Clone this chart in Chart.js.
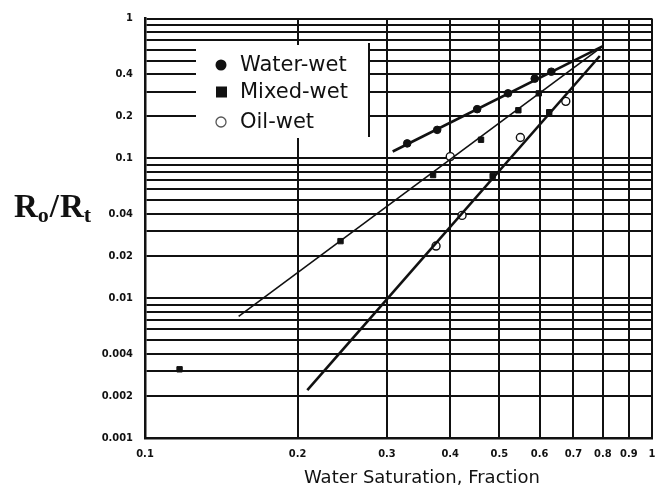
<!DOCTYPE html>
<html lang="en">
<head>
<meta charset="utf-8">
<title>Ro/Rt vs Water Saturation</title>
<script src="https://cdn.jsdelivr.net/npm/chart.js@4.4.1/dist/chart.umd.min.js"></script>
<style>
  html, body { margin: 0; padding: 0; background: #fff; }
  #grafica { display: block; }
</style>
</head>
<body>
<canvas id="grafica" width="668" height="494"></canvas>
<script>
// Puntos: Sw (fracción) y Ro/Rt
const waterWetSw = [0.329, 0.377, 0.452, 0.520, 0.587, 0.633];
const waterWetRatio = [0.128, 0.160, 0.225, 0.292, 0.372, 0.417];

const mixedWetSw = [0.117, 0.243, 0.370, 0.460, 0.485, 0.545, 0.598, 0.627];
const mixedWetRatio = [0.0031, 0.0256, 0.076, 0.136, 0.0747, 0.221, 0.292, 0.214];

const oilWetSw = [0.375, 0.400, 0.422, 0.550, 0.676];
const oilWetRatio = [0.0236, 0.103, 0.0391, 0.141, 0.256];

// Rectas de ajuste (extremos de cada recta)
const waterFitSw = [0.308, 0.80];
const waterFitRatio = [0.112, 0.635];
const mixedFitSw = [0.153, 0.80];
const mixedFitRatio = [0.0074, 0.635];
const oilFitSw = [0.209, 0.789];
const oilFitRatio = [0.0022, 0.54];

// Marcas de los ejes
const xTicks = [0.1, 0.2, 0.3, 0.4, 0.5, 0.6, 0.7, 0.8, 0.9, 1];
const xTickLabels = ['0.1', '0.2', '0.3', '0.4', '0.5', '0.6', '0.7', '0.8', '0.9', '1'];
const yTicks = [
    0.001, 0.002, 0.003, 0.004, 0.005, 0.006, 0.007, 0.008, 0.009,
    0.01, 0.02, 0.03, 0.04, 0.05, 0.06, 0.07, 0.08, 0.09,
    0.1, 0.2, 0.3, 0.4, 0.5, 0.6, 0.7, 0.8, 0.9, 1
];
const yLabeled = [0.001, 0.002, 0.004, 0.01, 0.02, 0.04, 0.1, 0.2, 0.4, 1];
const yTickLabels = ['0.001', '0.002', '0.004', '0.01', '0.02', '0.04', '0.1', '0.2', '0.4', '1'];

const legendItems = ['Water-wet', 'Mixed-wet', 'Oil-wet'];

function toPoints(xs, ys) {
    return xs.map((x, i) => ({ x: x, y: ys[i] }));
}

function findLabel(list, labels, value) {
    const i = list.findIndex(v => Math.abs(v - value) < v * 1e-6);
    return i >= 0 ? labels[i] : '';
}

document.addEventListener('DOMContentLoaded', function () {
    const canvas = document.getElementById('grafica');
    const ctx = canvas.getContext('2d');

    // Leyenda y títulos dibujados a mano
    const extras = {
        id: 'extras',
        beforeDatasetsDraw(chart) {
            const c = chart.ctx;
            c.save();
            // recuadro blanco de la leyenda
            c.fillStyle = '#ffffff';
            c.fillRect(196, 45, 173, 93);
            c.strokeStyle = '#111';
            c.lineWidth = 2;
            c.beginPath();
            c.moveTo(369, 43);
            c.lineTo(369, 137);
            c.stroke();

            c.font = '21px "DejaVu Sans"';
            c.textBaseline = 'middle';
            c.textAlign = 'left';
            c.fillStyle = '#111';
            const ys = [65, 92, 122];
            // circulo lleno
            c.beginPath();
            c.arc(221, ys[0], 5.5, 0, Math.PI * 2);
            c.fill();
            // cuadrado
            c.fillRect(216, ys[1] - 5.5, 11, 11);
            // circulo abierto
            c.strokeStyle = '#555';
            c.lineWidth = 1.3;
            c.beginPath();
            c.arc(221, ys[2], 5, 0, Math.PI * 2);
            c.stroke();
            legendItems.forEach((t, i) => c.fillText(t, 240, ys[i] + 1));
            c.restore();
        },
        afterDraw(chart) {
            const c = chart.ctx;
            c.save();
            c.fillStyle = '#111';
            c.textBaseline = 'alphabetic';
            // titulo eje x
            c.font = '18px "DejaVu Sans"';
            c.textAlign = 'center';
            c.fillText('Water Saturation, Fraction', 422, 483);
            // titulo eje y: Ro/Rt con subíndices
            c.textAlign = 'left';
            const big = 'bold 33px "Liberation Serif"';
            const small = 'bold 22px "Liberation Serif"';
            let x = 14;
            const base = 217;
            const parts = [
                { t: 'R', f: big, dy: 0, gap: 0 },
                { t: 'o', f: small, dy: 5, gap: 1 },
                { t: '/', f: big, dy: 0, gap: 1 },
                { t: 'R', f: big, dy: 0, gap: 0 },
                { t: 't', f: small, dy: 5, gap: 0 }
            ];
            parts.forEach(p => {
                c.font = p.f;
                c.fillText(p.t, x, base + p.dy);
                x += c.measureText(p.t).width + p.gap;
            });
            c.restore();
        }
    };

    const tickFont = { family: '"DejaVu Sans Condensed", "DejaVu Sans"', size: 11, weight: 'bold' };

    new Chart(ctx, {
        type: 'scatter',
        data: {
            datasets: [
                {
                    label: 'Water-wet fit',
                    data: toPoints(waterFitSw, waterFitRatio),
                    showLine: true,
                    borderColor: '#111',
                    borderWidth: 2.6,
                    pointRadius: 0
                },
                {
                    label: 'Mixed-wet fit',
                    data: toPoints(mixedFitSw, mixedFitRatio),
                    showLine: true,
                    borderColor: '#111',
                    borderWidth: 1.6,
                    pointRadius: 0
                },
                {
                    label: 'Oil-wet fit',
                    data: toPoints(oilFitSw, oilFitRatio),
                    showLine: true,
                    borderColor: '#111',
                    borderWidth: 2.6,
                    pointRadius: 0
                },
                {
                    label: 'Water-wet',
                    data: toPoints(waterWetSw, waterWetRatio),
                    pointStyle: 'circle',
                    pointRadius: 3.8,
                    backgroundColor: '#111',
                    borderColor: '#111',
                    borderWidth: 1
                },
                {
                    label: 'Mixed-wet',
                    data: toPoints(mixedWetSw, mixedWetRatio),
                    pointStyle: 'rect',
                    pointRadius: 3.8,
                    backgroundColor: '#111',
                    borderColor: '#111',
                    borderWidth: 1
                },
                {
                    label: 'Oil-wet',
                    data: toPoints(oilWetSw, oilWetRatio),
                    pointStyle: 'circle',
                    pointRadius: 4,
                    backgroundColor: '#fff',
                    borderColor: '#111',
                    borderWidth: 1.4
                }
            ]
        },
        options: {
            responsive: false,
            animation: false,
            layout: { padding: { top: 12, right: 16, left: 0, bottom: 0 } },
            plugins: {
                legend: { display: false },
                tooltip: { enabled: false }
            },
            scales: {
                x: {
                    type: 'logarithmic',
                    min: 0.1,
                    max: 1,
                    afterFit: scale => { scale.height = 56; },
                    afterBuildTicks: scale => { scale.ticks = xTicks.map(v => ({ value: v })); },
                    grid: { color: '#111', lineWidth: 2, drawTicks: false },
                    border: { color: '#111', width: 2.5 },
                    ticks: {
                        color: '#111',
                        font: tickFont,
                        padding: 10,
                        autoSkip: false,
                        maxRotation: 0,
                        callback: value => findLabel(xTicks, xTickLabels, value)
                    }
                },
                y: {
                    type: 'logarithmic',
                    min: 0.001,
                    max: 1,
                    afterFit: scale => { scale.width = 145; },
                    afterBuildTicks: scale => { scale.ticks = yTicks.map(v => ({ value: v })); },
                    grid: { color: '#111', lineWidth: 2, drawTicks: false },
                    border: { color: '#111', width: 2.5 },
                    ticks: {
                        color: '#111',
                        font: tickFont,
                        padding: 12,
                        autoSkip: false,
                        callback: value => findLabel(yLabeled, yTickLabels, value)
                    }
                }
            }
        },
        plugins: [extras]
    });
});
</script>
</body>
</html>
